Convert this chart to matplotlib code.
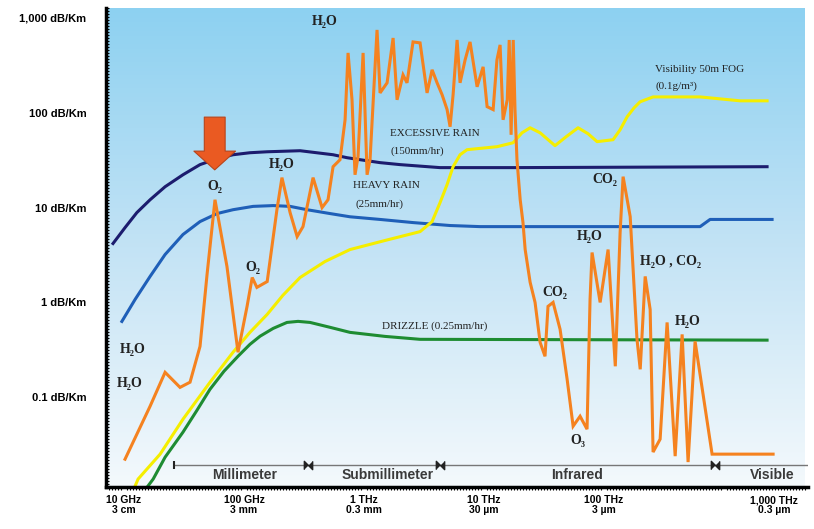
import numpy as np
import matplotlib
matplotlib.use("Agg")
import matplotlib.pyplot as plt
from matplotlib.ticker import FixedLocator, NullFormatter
from matplotlib.transforms import ScaledTranslation
from matplotlib.colors import LinearSegmentedColormap

# frequencies in GHz, attenuation in dB/km
rain_150_f = [8.1, 10.2, 12.8, 16.5, 22.0, 31.0, 43, 59.6, 81, 112, 156, 293, 552, 721, 927,
              1360, 1995, 4300, 17460, 2.28e6]
rain_150_a = [4.18, 6.15, 8.86, 12.1, 16.6, 22.2, 28.4, 32.8, 36.1, 37.9, 38.8, 39.8, 36.1,
              33.6, 32.0, 29.8, 28.4, 26.4, 26.4, 27.0]

rain_25_f = [9.6, 12.4, 16.5, 22.0, 31, 43, 59.6, 81, 119, 175, 242, 335, 521, 764, 1360, 2560,
             5210, 9270, 631000, 764000, 2.51e6]
rain_25_a = [0.63, 1.08, 1.88, 3.2, 5.2, 7.12, 8.65, 9.5, 10.3, 10.5, 10.3, 9.5, 8.65, 8.0,
             7.5, 6.95, 6.47, 6.3, 6.3, 7.5, 7.5]

drizzle_f = [15.2, 17.5, 22.0, 31, 40.6, 52, 68.1, 89, 112, 136, 175, 228, 282, 355, 521, 764,
             1496, 2930, 2.28e6]
drizzle_a = [0.0108, 0.0137, 0.0233, 0.0428, 0.073, 0.121, 0.188, 0.27, 0.361, 0.44, 0.532,
             0.615, 0.631, 0.615, 0.546, 0.483, 0.438, 0.408, 0.40]

fog_f = [12.1, 13.1, 20.0, 31, 52.1, 81, 112, 156, 211, 293, 473, 764, 1496, 2930, 3690, 4300,
         4920, 5520, 6310, 7210, 12830, 17460, 20700, 24200, 29300, 39000, 48200, 60700, 73600,
         87400, 118800, 136000, 155600, 178000, 199500, 256000, 631000, 1.36e6, 2.28e6]
fog_a = [0.0108, 0.0137, 0.0251, 0.0586, 0.144, 0.298, 0.483, 0.748, 1.19, 1.83, 2.70, 3.61,
         4.5, 5.58, 7.12, 11.3, 17.5, 27.0, 36.1, 40.8, 43.9, 48.3, 61.5, 69.5, 61.5, 45, 55.8,
         69.5, 60.1, 49.6, 52, 66.2, 90.8, 113, 130.6, 147, 147, 133.7, 133.7]

gas_f = [10.2, 16.5, 22.0, 29.3, 35.5, 43.0, 49.2, 57.3, 72.1, 89.1, 106, 117, 128, 156, 188, 207,
         242, 277, 310, 376, 447, 501, 552, 631, 695, 736, 794, 841, 891, 982, 1060, 1122, 1283,
         1360, 1556, 1746, 1884, 2113, 2280, 2560, 2930, 3350, 3690, 4060, 4470, 4920, 5210,
         5520, 5960, 6310, 6950, 7640, 8750, 9820, 10600, 11900, 12800, 13600, 14400, 15600,
         16200, 16800, 17500, 18100, 18800, 20000, 21100, 22000, 24200, 26600, 29300, 32200,
         34100, 37600, 43000, 49200, 55200, 63100, 72100, 76400, 79400, 92700, 108000, 124000,
         136000, 144000, 165000, 188000, 200000, 220000, 242000, 256000, 293000, 335000,
         391000, 447000, 501000, 573000, 794000, 2.56e6]
gas_a = [0.0222, 0.0804, 0.183, 0.127, 0.144, 0.344, 1.97, 12.1, 2.39, 0.298, 0.908, 1.83, 1.44,
         1.66, 9.5, 20.7, 8.86, 4.95, 6.3, 20.7, 10.0, 12.1, 27.0, 32.0, 84.3, 428, 137, 22.2,
         34.4, 428, 22.2, 32.0, 748, 162, 207, 615, 137, 251, 207, 559, 546, 162, 284, 207, 155,
         108, 71.3, 155, 586, 207, 361, 559, 188, 305, 116, 108, 361, 520, 84.3, 137, 586, 58.6,
         586, 108, 32.0, 12.1, 6.95, 3.61, 1.63, 1.0, 0.379, 0.27, 0.908, 1.0, 0.52, 0.155,
         0.0495, 0.063, 0.046, 1.08, 3.36, 1.0, 3.61, 0.212, 5.46, 21.2, 8.04, 0.408, 0.197,
         1.88, 0.843, 0.0264, 0.0361, 0.615, 0.0239, 0.46, 0.0207, 0.388, 0.0251, 0.0251]

x_ticks = [10, 100, 1000, 1e4, 1e5, 1e6]
x_labels = ["10 GHz\n3 cm", "100 GHz\n3 mm", "1 THz\n0.3 mm", "10 THz\n30 µm",
            "100 THz\n3 µm", "1,000 THz\n0.3 µm"]
y_ticks = [0.1, 1, 10, 100, 1000]
y_labels = ["0.1 dB/Km", "1 dB/Km", "10 dB/Km", "100 dB/Km", "1,000 dB/Km"]

band_edges = [26, 340, 4300, 840000]
band_names = ["Millimeter", "Submillimeter", "Infrared", "Visible"]
band_centers = [102, 1585, 59600, 2.51e6]

fig = plt.figure(figsize=(8.14, 5.29), dpi=100)
pos = [106 / 814, 42 / 529, 702 / 814, 479 / 529]

# sky gradient behind the plot
bg = fig.add_axes([106 / 814, 42 / 529, 699 / 814, 479 / 529], zorder=0)
cmap = LinearSegmentedColormap.from_list("sky", ["#f4f9fc", "#c3e3f5", "#8dd1f1"])
bg.imshow(np.linspace(0, 1, 256).reshape(-1, 1), cmap=cmap, aspect="auto",
          origin="lower", extent=[0, 1, 0, 1])
bg.axis("off")

ax = fig.add_axes(pos, zorder=1)
ax.patch.set_alpha(0)
ax.set_xscale("log")
ax.set_yscale("log")
ax.set_xlim(7.08, 5.0e6)
ax.set_ylim(0.0113, 1274)

lw = 2.2
ax.plot(rain_150_f, rain_150_a, color="#1c1c6e", lw=lw)
ax.plot(rain_25_f, rain_25_a, color="#1f5fb8", lw=lw)
ax.plot(drizzle_f, drizzle_a, color="#1e8c32", lw=lw)
ax.plot(fog_f, fog_a, color="#f5ee00", lw=lw)
ax.plot(gas_f, gas_a, color="#f5821f", lw=lw, solid_joinstyle="miter")

# big arrow on the 60 GHz oxygen line
ax.annotate("", xy=(57, 25), xytext=(57, 90),
            arrowprops=dict(arrowstyle="simple,head_length=0.9,head_width=2.0,tail_width=1.0",
                            fc="#ea5a22", ec="#b8441a", lw=0.8, mutation_scale=15,
                            shrinkA=0, shrinkB=0))

serif = ["Liberation Serif", "DejaVu Serif"]
txt = dict(family=serif, color="#222222")
ax.text(473, 907, "H₂O", fontsize=10, fontweight="bold", ha="center", va="center", **txt)
ax.text(57.3, 16.6, "O₂", fontsize=10, fontweight="bold", ha="center", va="center", **txt)
ax.text(207, 28.4, "H₂O", fontsize=10, fontweight="bold", ha="center", va="center", **txt)
ax.text(119, 2.33, "O₂", fontsize=10, fontweight="bold", ha="center", va="center", **txt)
ax.text(11.9, 0.32, "H₂O", fontsize=10, fontweight="bold", ha="center", va="center", **txt)
ax.text(11.2, 0.14, "H₂O", fontsize=10, fontweight="bold", ha="center", va="center", **txt)
ax.text(102000, 19.7, "CO₂", fontsize=10, fontweight="bold", ha="center", va="center", **txt)
ax.text(76400, 4.95, "H₂O", fontsize=10, fontweight="bold", ha="center", va="center", **txt)
ax.text(200000, 2.70, "H₂O , CO₂", fontsize=10, fontweight="bold", ha="left", va="center", **txt)
ax.text(39000, 1.27, "CO₂", fontsize=10, fontweight="bold", ha="center", va="center", **txt)
ax.text(60700, 0.0353, "O₃", fontsize=10, fontweight="bold", ha="center", va="center", **txt)
ax.text(501000, 0.63, "H₂O", fontsize=10, fontweight="bold", ha="center", va="center", **txt)

ax.text(1650, 60.1, "EXCESSIVE RAIN", fontsize=8, ha="left", va="center", **txt)
ax.text(1650, 39.8, "(150mm/hr)", fontsize=8, ha="left", va="center", **txt)
ax.text(809, 17.1, "HEAVY RAIN", fontsize=8, ha="left", va="center", **txt)
ax.text(841, 10.8, "(25mm/hr)", fontsize=8, ha="left", va="center", **txt)
ax.text(1413, 0.558, "DRIZZLE (0.25mm/hr)", fontsize=8, ha="left", va="center", **txt)
ax.text(266000, 284, "Visibility 50m FOG", fontsize=8, ha="left", va="center", **txt)
ax.text(266000, 192, "(0.1g/m³)", fontsize=8, ha="left", va="center", **txt)

# wavelength band ruler
ax.plot([band_edges[0], 5.0e6], [0.0192, 0.0192], color="#777777", lw=1, zorder=2)
ax.plot(band_edges[0], 0.0192, marker="|", color="#222222", ms=6, mew=1.5, zorder=3)
bowtie = [(-1, -1), (-1, 1), (1, -1), (1, 1)]
ax.plot(band_edges[1:], [0.0192] * 3, ls="none", marker=bowtie, color="#222222", ms=6,
        zorder=3)
for xc, name in zip(band_centers, band_names):
    ax.text(xc, 0.0151, name, fontsize=10, family="Liberation Sans", fontweight="bold",
            color="#3a3a3a", ha="center", va="center")

# axes styling
for s in ["top", "right"]:
    ax.spines[s].set_visible(False)
for s in ["left", "bottom"]:
    ax.spines[s].set_linewidth(2.5)
    ax.spines[s].set_color("black")

ax.set_xticks(x_ticks)
ax.set_xticklabels(x_labels, fontsize=7.5, fontweight="bold", family="Liberation Sans",
                   linespacing=1.0)
ax.set_yticks(y_ticks)
ax.set_yticklabels(y_labels, fontsize=8, fontweight="bold", family="Liberation Sans")
ax.tick_params(axis="both", which="major", length=0)
ax.tick_params(axis="x", which="major", pad=6)
ax.tick_params(axis="y", which="major", pad=14)

ax.yaxis.set_minor_locator(FixedLocator(10 ** np.arange(-1.95, 3.11, 3 / 95)))
ax.xaxis.set_minor_locator(FixedLocator(10 ** np.arange(0.85, 6.7, 3 / 120)))
ax.xaxis.set_minor_formatter(NullFormatter())
ax.yaxis.set_minor_formatter(NullFormatter())
ax.tick_params(axis="y", which="minor", direction="in", length=2, width=0.8)
ax.tick_params(axis="x", which="minor", direction="out", length=2, width=0.8)

# last frequency label sits further right in the original
last = ax.get_xticklabels()[-1]
last.set_transform(last.get_transform() + ScaledTranslation(0.5, 0, fig.dpi_scale_trans))

fig.savefig("out.png", dpi=100)
